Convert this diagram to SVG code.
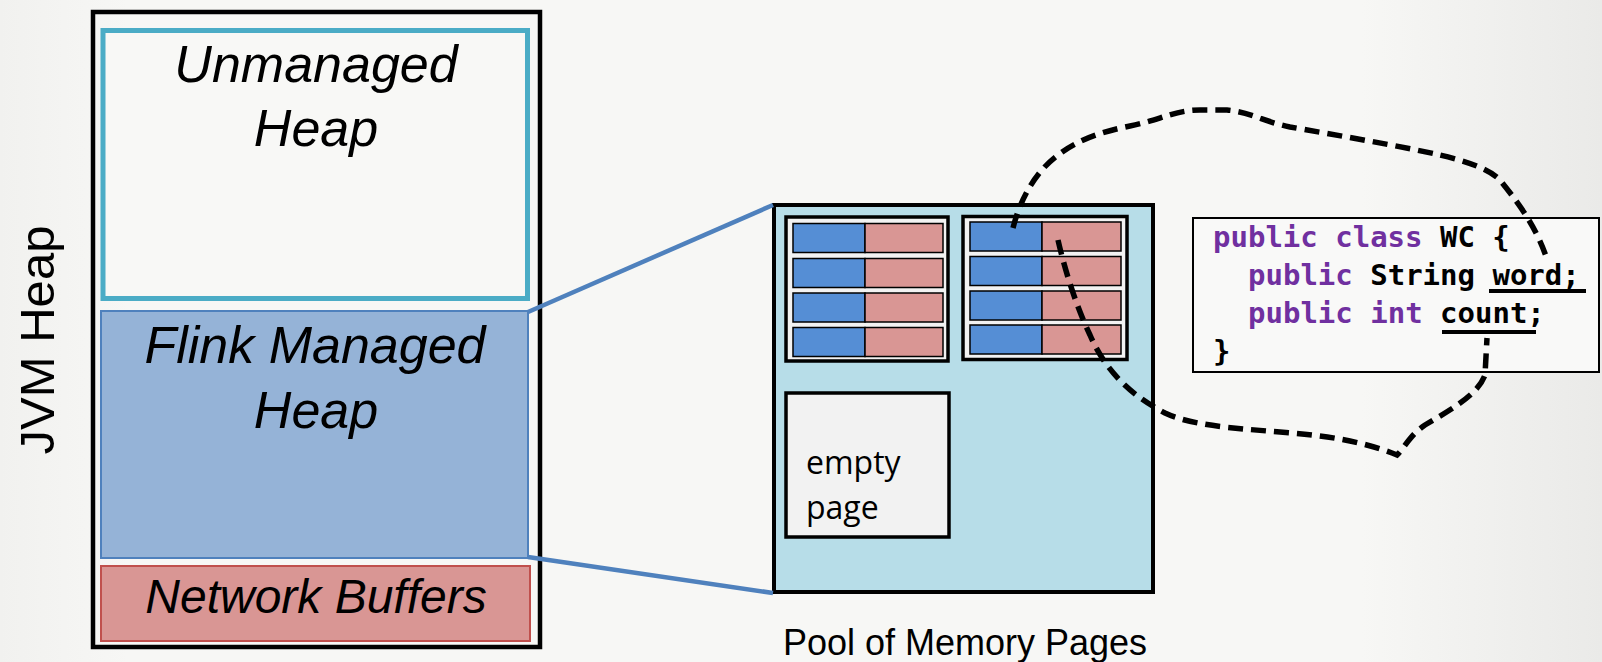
<svg xmlns="http://www.w3.org/2000/svg" width="1602" height="662" viewBox="0 0 1602 662">
<defs>
<linearGradient id="bg" x1="0" y1="0" x2="1" y2="0">
<stop offset="0" stop-color="#F1F1EF"/>
<stop offset="0.08" stop-color="#F7F7F5"/>
<stop offset="0.85" stop-color="#F7F7F5"/>
<stop offset="1" stop-color="#EAEAE8"/>
</linearGradient>
<style>
.head{font-family:"Liberation Sans",Arial,sans-serif;font-style:italic;fill:#000;text-anchor:middle}
.lbl{font-family:"Liberation Sans",Arial,sans-serif;fill:#000}
.code{font-family:"DejaVu Sans Mono","Liberation Mono",monospace;font-weight:bold;font-size:29px;fill:#000}
.kw{fill:#7030A0}
.blue{fill:#558ED5;stroke:#000;stroke-width:1.5}
.pink{fill:#D99694;stroke:#000;stroke-width:1.5}
.page{fill:#F2F2F2;stroke:#000;stroke-width:3.5}
.link{stroke:#4F81BD;stroke-width:4.5;fill:none}
.dash{stroke:#000;stroke-width:5.5;fill:none;stroke-dasharray:15 8}
</style>
</defs>
<rect x="0" y="0" width="1602" height="662" fill="url(#bg)"/>

<g id="jvm-heap-label">
<text class="lbl" font-size="49" text-anchor="middle" transform="translate(54,340) rotate(-90)">JVM Heap</text>
</g>

<g id="jvm-heap">
<rect x="93" y="12" width="447" height="635" fill="none" stroke="#000" stroke-width="4.5"/>
</g>

<g id="unmanaged-heap">
<rect x="103" y="30.5" width="424.5" height="268" fill="#F8F8F6" stroke="#4BACC6" stroke-width="5"/>
<text class="head" font-size="52" x="316" y="82">Unmanaged</text>
<text class="head" font-size="52" x="316" y="146">Heap</text>
</g>

<g id="flink-managed-heap">
<rect x="101" y="311" width="427" height="247" fill="#95B3D7" stroke="#4F81BD" stroke-width="2"/>
<text class="head" font-size="52" x="315" y="363">Flink Managed</text>
<text class="head" font-size="52" x="316" y="428">Heap</text>
</g>

<g id="network-buffers">
<rect x="101" y="566" width="429" height="75" fill="#D99694" stroke="#C0504D" stroke-width="2"/>
<text class="head" font-size="48" x="316" y="613">Network Buffers</text>
</g>

<g id="pool">
<rect x="774" y="205" width="379" height="387" fill="#B7DDE8" stroke="#000" stroke-width="4"/>
</g>

<g id="page-1">
<rect class="page" x="786" y="217" width="162" height="144"/>
<rect class="blue" x="793" y="223.5" width="72" height="29"/>
<rect class="pink" x="865" y="223.5" width="78" height="29"/>
<rect class="blue" x="793" y="258.5" width="72" height="29"/>
<rect class="pink" x="865" y="258.5" width="78" height="29"/>
<rect class="blue" x="793" y="293" width="72" height="29"/>
<rect class="pink" x="865" y="293" width="78" height="29"/>
<rect class="blue" x="793" y="327.5" width="72" height="29"/>
<rect class="pink" x="865" y="327.5" width="78" height="29"/>
</g>

<g id="page-2">
<rect class="page" x="963" y="216.5" width="164" height="143"/>
<rect class="blue" x="970" y="222" width="72" height="29"/>
<rect class="pink" x="1042" y="222" width="79" height="29"/>
<rect class="blue" x="970" y="256.5" width="72" height="29"/>
<rect class="pink" x="1042" y="256.5" width="79" height="29"/>
<rect class="blue" x="970" y="291" width="72" height="29"/>
<rect class="pink" x="1042" y="291" width="79" height="29"/>
<rect class="blue" x="970" y="325" width="72" height="29"/>
<rect class="pink" x="1042" y="325" width="79" height="29"/>
</g>

<g id="empty-page">
<rect class="page" x="786" y="393" width="163" height="144"/>
<text class="lbl" style="font-family:'Open Sans','Liberation Sans',sans-serif" font-size="32" x="806" y="474">empty</text>
<text class="lbl" style="font-family:'Open Sans','Liberation Sans',sans-serif" font-size="32" x="806" y="519">page</text>
</g>

<g id="pool-label">
<text class="lbl" font-size="36" text-anchor="middle" x="965" y="655">Pool of Memory Pages</text>
</g>

<g id="code-box">
<rect x="1193" y="218" width="406" height="154" fill="#F9F9F8" stroke="#000" stroke-width="2"/>
<text class="code" x="1213" y="247" xml:space="preserve"><tspan class="kw">public class</tspan> WC {</text>
<text class="code" x="1248" y="285" xml:space="preserve"><tspan class="kw">public</tspan> String word;</text>
<text class="code" x="1248" y="323" xml:space="preserve"><tspan class="kw">public int</tspan> count;</text>
<text class="code" x="1213" y="361">}</text>
<rect x="1489" y="289" width="97" height="4" fill="#000"/>
<rect x="1442" y="330" width="94" height="4" fill="#000"/>
</g>

<g id="connectors">
<line class="link" x1="528" y1="312" x2="773" y2="205"/>
<line class="link" x1="528" y1="557" x2="773" y2="593"/>
<path class="dash" d="M1013,228 C1020,200 1035,172 1058,155 C1078,140 1100,132 1130,126 C1160,120 1175,110 1200,110 L1227,110 C1250,112 1265,122 1290,127 C1330,134 1400,146 1440,155 C1470,162 1490,170 1500,180 C1520,205 1537,228 1548,262"/>
<path class="dash" d="M1058,240 C1066,275 1078,310 1090,335 C1105,370 1130,395 1165,413 C1190,425 1230,428 1280,432 C1320,435 1360,440 1397,455 C1405,447 1410,435 1425,425 C1450,410 1478,395 1485,375 L1487,338"/>
</g>
</svg>
